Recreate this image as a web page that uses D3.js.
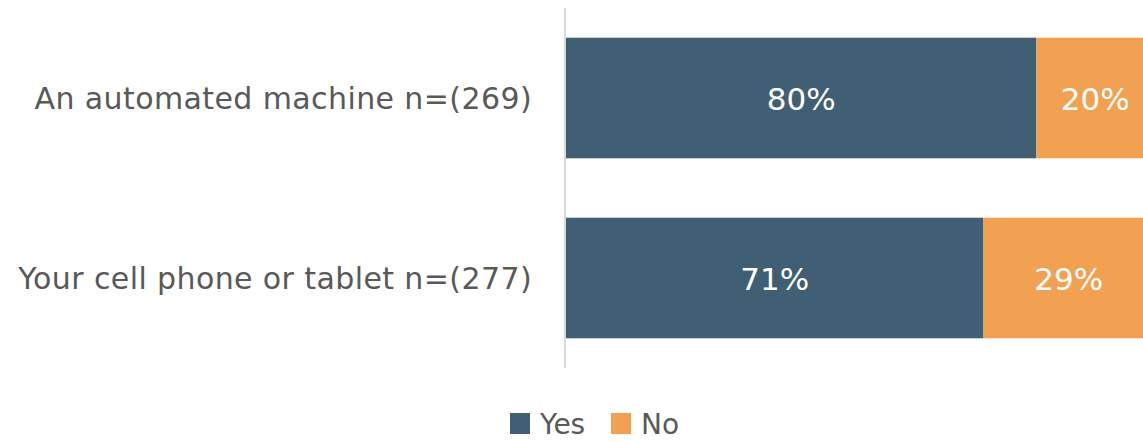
<!DOCTYPE html>
<html><head><meta charset="utf-8">
<script src="https://cdn.jsdelivr.net/npm/d3@7"></script>
<style>body{margin:0;background:#fff}svg{display:block}</style>
</head><body>
<svg id="c" width="1143" height="441"></svg>
<script>
const categories = ["An automated machine n=(269)", "Your cell phone or tablet n=(277)"];
const seriesNames = ["Yes", "No"];
const yesValues = [80, 71];
const noValues = [20, 29];
const colors = ["#405F74", "#F2A152"];

const svg = d3.select("#c");
const font = "'DejaVu Sans', sans-serif";
const x = d3.scaleLinear().domain([0, 100]).range([566, 1154]);
const y = d3.scaleBand().domain(categories).range([8, 368]).paddingInner(0.33).paddingOuter(0.165);

const data = categories.map((c, i) => ({cat: c, Yes: yesValues[i], No: noValues[i]}));
const stacked = d3.stack().keys(seriesNames)(data);

const g = svg.append("g");
stacked.forEach((s, si) => {
  g.selectAll(null).data(s).enter().append("rect")
    .attr("x", d => x(d[0])).attr("y", d => y(d.data.cat))
    .attr("width", d => x(d[1]) - x(d[0])).attr("height", y.bandwidth())
    .attr("fill", colors[si]);
  g.selectAll(null).data(s).enter().append("text")
    .attr("x", d => (x(d[0]) + x(d[1])) / 2)
    .attr("y", d => y(d.data.cat) + y.bandwidth() / 2)
    .attr("dy", "0.38em").attr("text-anchor", "middle")
    .attr("fill", "#fff").attr("font-family", font).attr("font-size", 31)
    .text(d => (d[1] - d[0]) + "%");
});

// axis line
svg.append("line").attr("x1", 565).attr("x2", 565).attr("y1", 8).attr("y2", 368)
  .attr("stroke", "#D9D9D9").attr("stroke-width", 2);

const yAxis = d3.axisLeft(y).tickSize(0).tickPadding(0);
const ag = svg.append("g").attr("transform", "translate(532,0)").call(yAxis);
ag.select(".domain").remove();
ag.selectAll("text").attr("font-family", font).attr("font-size", 30).attr("fill", "#595959")
  .attr("dy", "0.38em").attr("letter-spacing", 0.4);

// legend
const leg = svg.append("g");
const legX = [510, 611];
seriesNames.forEach((n, i) => {
  leg.append("rect").attr("x", legX[i]).attr("y", 413).attr("width", 20).attr("height", 21).attr("fill", colors[i]);
  leg.append("text").attr("x", legX[i] + 30).attr("y", 434)
    .attr("font-family", font).attr("font-size", 28).attr("fill", "#595959").text(n);
});
</script>
</body></html>
